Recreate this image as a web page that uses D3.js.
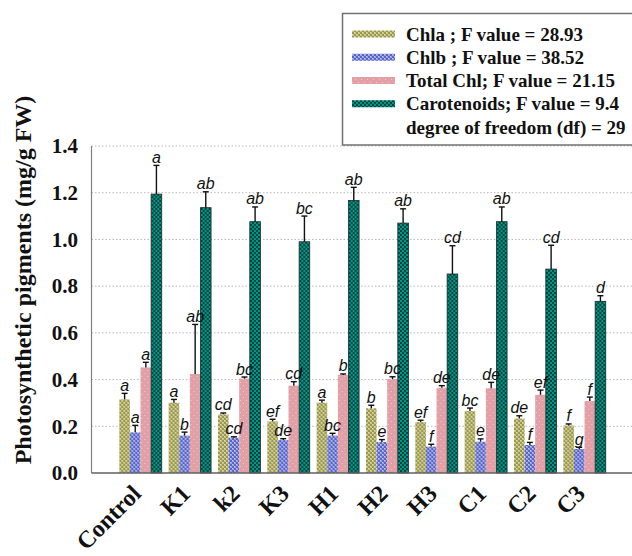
<!DOCTYPE html>
<html>
<head>
<meta charset="utf-8">
<script src="https://cdn.jsdelivr.net/npm/d3@7"></script>
<style>
  html, body { margin: 0; padding: 0; background: #fff; }
  svg { display: block; }
</style>
</head>
<body>
<svg id="chart" width="632" height="556"></svg>
<script>
// Treatments and pigment contents (mg/g FW) with standard errors and Duncan letters
const categories = ["Control", "K1", "k2", "K3", "H1", "H2", "H3", "C1", "C2", "C3"];

const chla     = [0.315, 0.301, 0.251, 0.221, 0.301, 0.277, 0.218, 0.265, 0.233, 0.203];
const chlaErr  = [0.026, 0.014, 0.006, 0.009, 0.011, 0.013, 0.008, 0.013, 0.012, 0.007];
const chlaSig  = ["a", "a", "cd", "ef", "a", "b", "ef", "bc", "de", "f"];

const chlb     = [0.174, 0.160, 0.151, 0.141, 0.160, 0.133, 0.113, 0.134, 0.120, 0.103];
const chlbErr  = [0.030, 0.015, 0.004, 0.006, 0.010, 0.010, 0.010, 0.012, 0.011, 0.007];
const chlbSig  = ["a", "b", "cd", "de", "bc", "e", "f", "e", "f", "g"];

const totalChl    = [0.452, 0.424, 0.404, 0.374, 0.420, 0.402, 0.365, 0.363, 0.335, 0.308];
const totalChlErr = [0.022, 0.212, 0.007, 0.017, 0.004, 0.010, 0.009, 0.025, 0.020, 0.017];
const totalChlSig = ["a", "ab", "bc", "cd", "b", "bc", "de", "de", "ef", "f"];

const carot    = [1.194, 1.136, 1.076, 0.990, 1.167, 1.070, 0.852, 1.076, 0.873, 0.735];
const carotErr = [0.123, 0.068, 0.063, 0.110, 0.056, 0.061, 0.121, 0.063, 0.102, 0.024];
const carotSig = ["a", "ab", "ab", "bc", "ab", "ab", "cd", "ab", "cd", "d"];

const legendLabels = [
  "Chla ; F value = 28.93",
  "Chlb ; F value = 38.52",
  "Total Chl; F value = 21.15",
  "Carotenoids; F value = 9.4"
];
const legendNote = "degree of freedom (df) = 29";

const yTicks = [0, 0.2, 0.4, 0.6, 0.8, 1.0, 1.2, 1.4];
const yTitle = "Photosynthetic pigments (mg/g FW)";

const seriesKeys = ["chla", "chlb", "total", "carot"];
const series = [
  { key: "chla",  values: chla,     err: chlaErr,     sig: chlaSig },
  { key: "chlb",  values: chlb,     err: chlbErr,     sig: chlbSig },
  { key: "total", values: totalChl, err: totalChlErr, sig: totalChlSig },
  { key: "carot", values: carot,    err: carotErr,    sig: carotSig }
];

const svg = d3.select("#chart");
const serif = "'Liberation Serif', 'Times New Roman', serif";
const sans = "'Liberation Sans', Arial, sans-serif";

// ---- fill patterns ----
const defs = svg.append("defs");
function checker(id, base, dark, light) {
  const p = defs.append("pattern").attr("id", id)
    .attr("patternUnits", "userSpaceOnUse").attr("width", 4).attr("height", 4);
  p.append("rect").attr("width", 4).attr("height", 4).attr("fill", base);
  p.append("rect").attr("x", 0).attr("y", 0).attr("width", 2).attr("height", 2).attr("fill", dark);
  p.append("rect").attr("x", 2).attr("y", 2).attr("width", 2).attr("height", 2).attr("fill", dark);
  if (light) {
    p.append("rect").attr("x", 2).attr("y", 0).attr("width", 1).attr("height", 1).attr("fill", light);
    p.append("rect").attr("x", 0).attr("y", 2).attr("width", 1).attr("height", 1).attr("fill", light);
  }
}
checker("pat-chla", "#c6c48a", "#9a984c", "#dedcb0");
checker("pat-chlb", "#97a0e2", "#5865c6", "#c2c8f0");
checker("pat-carot", "#00968a", "#00453c", null);
(function () {
  const p = defs.append("pattern").attr("id", "pat-total")
    .attr("patternUnits", "userSpaceOnUse").attr("width", 6).attr("height", 6);
  p.append("rect").attr("width", 6).attr("height", 6).attr("fill", "#e2a0a6");
  p.append("rect").attr("x", 1).attr("y", 1).attr("width", 1).attr("height", 1).attr("fill", "#efc7c9");
  p.append("rect").attr("x", 4).attr("y", 4).attr("width", 1).attr("height", 1).attr("fill", "#efc7c9");
})();
const fills = { chla: "url(#pat-chla)", chlb: "url(#pat-chlb)", total: "url(#pat-total)", carot: "url(#pat-carot)" };
const strokes = { chla: "none", chlb: "none", total: "none", carot: "#1f2a28" };

// ---- scales ----
const plotLeft = 91.5, plotRight = 640;
const y = d3.scaleLinear().domain([0, 1.4]).range([473, 146]);
const x = d3.scaleBand().domain(categories).range([115.85, 609.2])
  .paddingInner(0.14).paddingOuter(0.07);
const xs = d3.scaleBand().domain(seriesKeys).range([0, x.bandwidth()]).padding(0);

// ---- gridlines ----
svg.append("g").selectAll("line").data(yTicks.filter(t => t > 0)).join("line")
  .attr("x1", plotLeft).attr("x2", plotRight)
  .attr("y1", d => y(d)).attr("y2", d => y(d))
  .attr("stroke", "#b8b8b8").attr("stroke-width", 1)
  .attr("stroke-dasharray", "1.5,2");

// ---- bars ----
const groups = svg.append("g").selectAll("g").data(categories).join("g")
  .attr("transform", d => `translate(${x(d)},0)`);

series.forEach(s => {
  groups.append("rect")
    .attr("x", xs(s.key))
    .attr("width", xs.bandwidth())
    .attr("y", (d, i) => y(s.values[i]))
    .attr("height", (d, i) => y(0) - y(s.values[i]))
    .attr("fill", fills[s.key])
    .attr("stroke", strokes[s.key])
    .attr("stroke-width", 0.8);
});

// ---- error bars (upper half) ----
series.forEach(s => {
  const cx = xs(s.key) + xs.bandwidth() / 2;
  groups.append("line")
    .attr("x1", cx).attr("x2", cx)
    .attr("y1", (d, i) => y(s.values[i]))
    .attr("y2", (d, i) => y(s.values[i] + s.err[i]))
    .attr("stroke", "#111").attr("stroke-width", 1.4);
  groups.append("line")
    .attr("x1", cx - 3).attr("x2", cx + 3)
    .attr("y1", (d, i) => y(s.values[i] + s.err[i]))
    .attr("y2", (d, i) => y(s.values[i] + s.err[i]))
    .attr("stroke", "#111").attr("stroke-width", 1.4);
});

// ---- significance letters ----
series.forEach(s => {
  const cx = xs(s.key) + xs.bandwidth() / 2;
  groups.append("text")
    .attr("x", cx)
    .attr("y", (d, i) => y(s.values[i] + s.err[i]) - 2.5)
    .attr("text-anchor", "middle")
    .attr("font-family", sans).attr("font-style", "italic")
    .attr("font-size", 16).attr("fill", "#111")
    .text((d, i) => s.sig[i]);
});

// ---- axes frame ----
svg.append("line").attr("x1", plotLeft).attr("x2", plotLeft)
  .attr("y1", y(1.4)).attr("y2", y(0))
  .attr("stroke", "#808080").attr("stroke-width", 1.2);
svg.append("line").attr("x1", plotLeft).attr("x2", plotRight)
  .attr("y1", y(0)).attr("y2", y(0))
  .attr("stroke", "#606060").attr("stroke-width", 1.4);

// y tick labels
const yAxis = d3.axisLeft(y).tickValues(yTicks).tickFormat(d3.format(".1f")).tickSize(0).tickPadding(0);
const yg = svg.append("g").attr("transform", "translate(78,0)").call(yAxis);
yg.select(".domain").remove();
yg.selectAll("text")
  .attr("font-family", serif).attr("font-weight", "bold")
  .attr("font-size", 21).attr("fill", "#111");

// x labels (rotated)
const xAxis = d3.axisBottom(x).tickSize(0).tickPadding(0);
const xg = svg.append("g").call(xAxis);
xg.select(".domain").remove();
xg.selectAll(".tick").attr("transform", d => `translate(${x(d) + x.bandwidth() / 2 + 2},495)`);
xg.selectAll("text")
  .attr("y", 0).attr("x", 0).attr("dy", 0)
  .attr("transform", "rotate(-45)")
  .attr("text-anchor", "end")
  .attr("font-family", serif).attr("font-weight", "bold")
  .attr("font-size", 24).attr("fill", "#111");

// y title
svg.append("text")
  .attr("transform", "translate(31,280) rotate(-90)")
  .attr("text-anchor", "middle")
  .attr("font-family", serif).attr("font-weight", "bold")
  .attr("font-size", 24).attr("fill", "#111")
  .text(yTitle);

// ---- legend ----
const lg = svg.append("g");
lg.append("rect").attr("x", 342.5).attr("y", 13.5).attr("width", 320).attr("height", 131.5)
  .attr("fill", "#fff").attr("stroke", "#707070").attr("stroke-width", 1.5);
const rowY = d3.scalePoint().domain(d3.range(5)).range([34, 127]);
lg.selectAll("rect.sw").data(seriesKeys).join("rect").attr("class", "sw")
  .attr("x", 352).attr("width", 43)
  .attr("y", (d, i) => rowY(i) - 3.5).attr("height", 7)
  .attr("fill", d => fills[d]);
lg.selectAll("text.lt").data(legendLabels.concat([legendNote])).join("text").attr("class", "lt")
  .attr("x", 406).attr("y", (d, i) => rowY(i) + 6.5)
  .attr("font-family", serif).attr("font-weight", "bold")
  .attr("font-size", 19).attr("fill", "#111")
  .text(d => d);
</script>
</body>
</html>
